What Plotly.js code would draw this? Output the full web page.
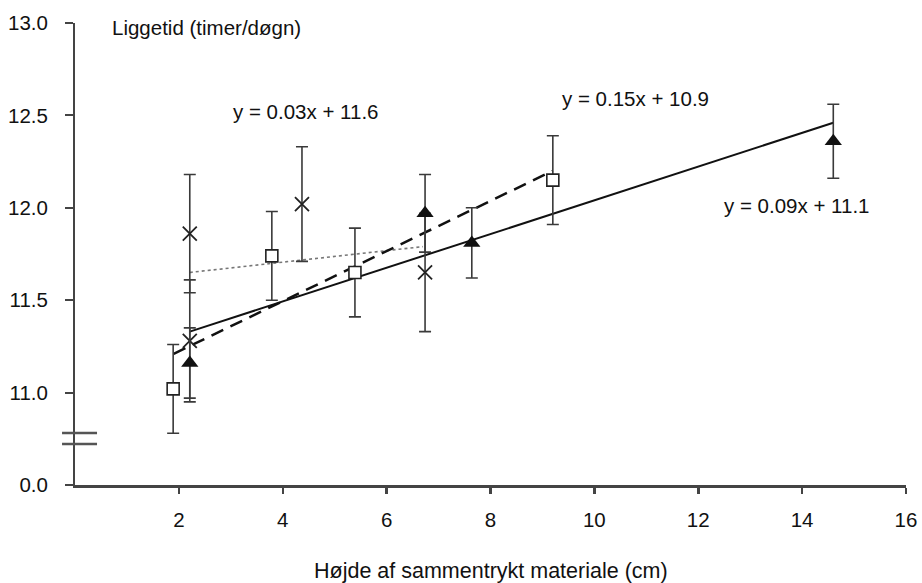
<!DOCTYPE html>
<html>
<head>
<meta charset="utf-8">
<script src="https://cdn.plot.ly/plotly-3.0.1.min.js"></script>
<style>html,body{margin:0;padding:0;background:#fff;}#chart{width:922px;height:583px;}</style>
</head>
<body>
<div id="chart"></div>
<script>
// Data
var squareX = [1.89, 3.79, 5.39, 9.2];
var squareY = [11.02, 11.74, 11.65, 12.15];
var squareErr = [0.24, 0.24, 0.24, 0.24];

var triX = [2.21, 6.74, 7.64, 14.6];
var triY = [11.16, 11.97, 11.81, 12.36];
var triErr = [0.19, 0.21, 0.19, 0.20];

var crossX = [2.21, 2.21, 4.37, 6.74];
var crossY = [11.86, 11.28, 12.02, 11.65];
var crossErr = [0.32, 0.33, 0.31, 0.32];

// Trend lines (end points)
var solidX = [2.21, 14.6];
var solidY = [11.33, 12.46];
var dashedX = [1.9, 9.2];
var dashedY = [11.21, 12.20];
var dottedX = [2.21, 6.7];
var dottedY = [11.65, 11.79];

// Axis ticks (broken y axis: bottom tick stands for 0.0)
var xTickVals = [2, 4, 6, 8, 10, 12, 14, 16];
var yTickVals = [10.5, 11, 11.5, 12, 12.5, 13];
var yTickText = ['0.0', '11.0', '11.5', '12.0', '12.5', '13.0'];

var eqTexts = ['y = 0.03x + 11.6', 'y = 0.15x + 10.9', 'y = 0.09x + 11.1'];
var yTitle = 'Liggetid (timer/døgn)';
var xTitle = 'Højde af sammentrykt materiale (cm)';

var FONT = 'Arial, "Liberation Sans", sans-serif';
var FS = 20.5;
var ebar = function (arr) {
  return {type: 'data', array: arr, visible: true, color: '#3a3a3a', thickness: 1.6, width: 6};
};

var traces = [
  {x: dottedX, y: dottedY, mode: 'lines', line: {color: '#777', width: 1.6, dash: 'dot'}, hoverinfo: 'skip'},
  {x: dashedX, y: dashedY, mode: 'lines', line: {color: '#111', width: 2.5, dash: '13px,8px'}, hoverinfo: 'skip'},
  {x: solidX, y: solidY, mode: 'lines', line: {color: '#111', width: 2}, hoverinfo: 'skip'},
  {x: crossX, y: crossY, mode: 'markers', error_y: ebar(crossErr),
   marker: {symbol: 'x-thin-open', size: 14, color: '#222', line: {color: '#222', width: 1.8}}},
  {x: squareX, y: squareY, mode: 'markers', error_y: ebar(squareErr),
   marker: {symbol: 'square', size: 12, color: '#fff', line: {color: '#222', width: 1.6}}},
  {x: triX, y: triY, mode: 'markers', error_y: ebar(triErr),
   marker: {symbol: 'triangle-up', size: 15, color: '#111', line: {color: '#111', width: 0}}}
];

var ann = function (text, x, y) {
  return {text: text, xref: 'x', yref: 'y', x: x, y: y, xanchor: 'left', yanchor: 'middle', showarrow: false,
          font: {family: FONT, size: FS, color: '#111'}};
};

var layout = {
  width: 922, height: 583,
  margin: {l: 75, r: 16, t: 23, b: 98, pad: 0},
  paper_bgcolor: '#fff', plot_bgcolor: '#fff',
  showlegend: false,
  font: {family: FONT, size: FS, color: '#111'},
  xaxis: {
    range: [0, 16], tickvals: xTickVals, ticks: 'outside', ticklen: 6, tickwidth: 2.5, tickcolor: '#444',
    showline: true, linecolor: '#444', linewidth: 2.5, showgrid: false, zeroline: false,
    ticklabelstandoff: 9, tickfont: {family: FONT, size: FS, color: '#111'}
  },
  yaxis: {
    range: [10.5, 13.0], tickvals: yTickVals, ticktext: yTickText, ticks: 'outside', ticklen: 8, tickwidth: 2, tickcolor: '#444',
    showline: true, linecolor: '#444', linewidth: 2, showgrid: false, zeroline: false,
    ticklabelstandoff: 13, tickfont: {family: FONT, size: FS, color: '#111'}
  },
  shapes: [
    {type: 'line', xref: 'paper', yref: 'paper', x0: -0.0156, x1: 0.0265, y0: 0.1126, y1: 0.1126, line: {color: '#555', width: 2.5}},
    {type: 'line', xref: 'paper', yref: 'paper', x0: -0.0156, x1: 0.0265, y0: 0.0887, y1: 0.0887, line: {color: '#555', width: 2.5}}
  ],
  annotations: [
    ann(yTitle, 0.67, 12.975),
    ann(eqTexts[0], 3.0, 12.52),
    ann(eqTexts[1], 9.34, 12.59),
    ann(eqTexts[2], 12.46, 12.015),
    {text: xTitle, xref: 'paper', yref: 'paper', x: 0.5, y: -0.186, xanchor: 'center', yanchor: 'middle', showarrow: false,
     font: {family: FONT, size: 21.5, color: '#111'}}
  ]
};

Plotly.newPlot('chart', traces, layout, {displayModeBar: false, staticPlot: true});
</script>
</body>
</html>
